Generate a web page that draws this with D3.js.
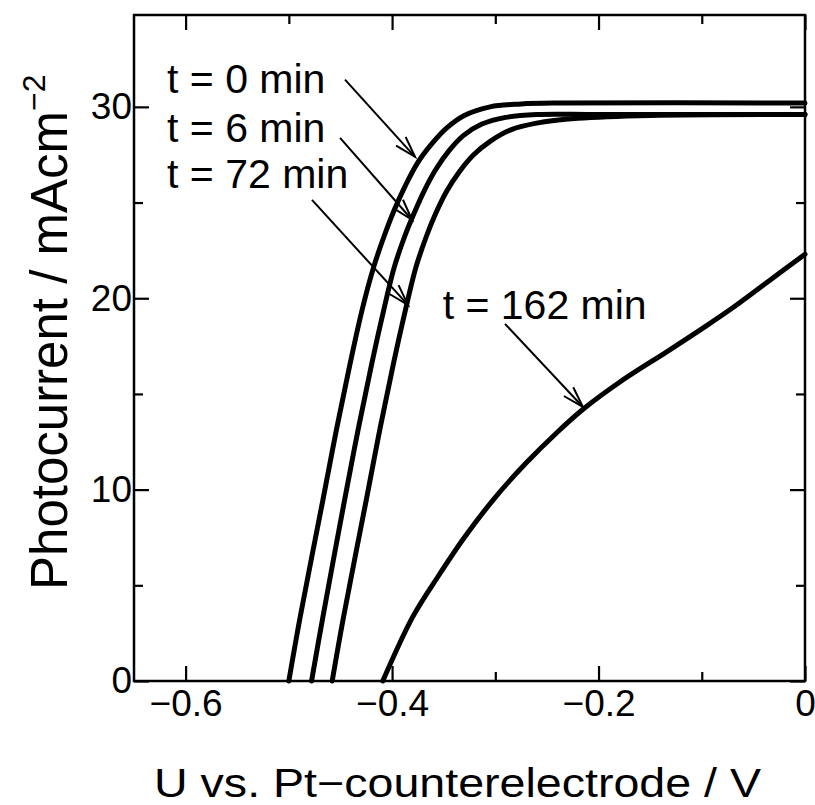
<!DOCTYPE html>
<html><head><meta charset="utf-8">
<script src="https://cdn.jsdelivr.net/npm/d3@7"></script>
<style>body{margin:0;background:#fff}</style>
</head><body><svg id="chart" width="815" height="805"></svg>
<script>
// ---- data ----
const xTicksMajor = [-0.6, -0.4, -0.2, 0];
const xTicksMinor = [-0.5, -0.3, -0.1];
const yTicksMajor = [0, 10, 20, 30];
const yTicksMinor = [5, 15, 25];
const xTickLabels = ["−0.6", "−0.4", "−0.2", "0"];
const yTickLabels = ["0", "10", "20", "30"];

const U_t0   = [-0.500, -0.489, -0.467, -0.454, -0.441, -0.429, -0.418, -0.408, -0.398, -0.387, -0.375, -0.361, -0.347, -0.330, -0.305, -0.275, -0.240, 0.000];
const J_t0   = [0, 3.35, 9.46, 13.1, 16.5, 19.4, 21.6, 23.2, 24.6, 25.9, 27.1, 28.1, 28.9, 29.55, 30.0, 30.15, 30.2, 30.2];
const U_t6   = [-0.478, -0.467, -0.446, -0.433, -0.420, -0.408, -0.398, -0.388, -0.379, -0.369, -0.358, -0.345, -0.331, -0.313, -0.290, -0.260, -0.200, 0.000];
const J_t6   = [0, 3.35, 9.46, 13.1, 16.5, 19.4, 21.6, 23.2, 24.4, 25.6, 26.7, 27.7, 28.5, 29.1, 29.45, 29.6, 29.6, 29.6];
const U_t72  = [-0.458, -0.447, -0.425, -0.412, -0.399, -0.387, -0.377, -0.367, -0.358, -0.347, -0.335, -0.321, -0.305, -0.285, -0.260, -0.220, -0.150, 0.000];
const J_t72  = [0, 3.35, 9.46, 13.1, 16.5, 19.4, 21.6, 23.2, 24.4, 25.6, 26.6, 27.5, 28.2, 28.8, 29.15, 29.4, 29.55, 29.6];
const U_t162 = [-0.409, -0.380, -0.355, -0.330, -0.300, -0.270, -0.240, -0.215, -0.180, -0.134, -0.100, -0.070, -0.035, 0.000];
const J_t162 = [0, 3.35, 5.5, 7.5, 9.6, 11.4, 13.0, 14.2, 15.6, 17.2, 18.4, 19.5, 20.9, 22.3];

const seriesLabels = ["t = 0 min", "t = 6 min", "t = 72 min", "t = 162 min"];
const labelU = [-0.618, -0.618, -0.618, -0.351];
const labelJ = [30.74, 28.18, 25.77, 18.92];
const arrowFromU = [-0.4456, -0.4504, -0.4776, -0.2906];
const arrowFromJ = [31.42, 28.38, 25.14, 18.66];
const arrowToU   = [-0.3778, -0.3807, -0.3846, -0.2151];
const arrowToJ   = [27.39, 24.10, 19.65, 14.32];

const xTitle = "U vs. Pt\u2212counterelectrode / V";
const yTitleMain = "Photocurrent / mAcm";
const yTitleSup = "\u22122";

// ---- layout ----
const L = 134, R = 805, T = 15, B = 681;
const x = d3.scaleLinear().domain([-0.65, 0]).range([L, R]);
const y = d3.scaleLinear().domain([0, 34.8]).range([B, T]);
const FONT = "'Liberation Sans', Arial, sans-serif";

const svg = d3.select("#chart");
svg.append("rect").attr("width", 815).attr("height", 805).attr("fill", "#fff");

function styleAxis(g) {
  g.select(".domain").remove();
  g.selectAll(".tick line").attr("stroke", "#000").attr("stroke-width", 2.2);
  g.selectAll("text").attr("font-family", FONT).attr("font-size", 37).attr("fill", "#000");
}

// bottom
svg.append("g").attr("transform", `translate(0,${B})`)
  .call(d3.axisBottom(x).tickValues(xTicksMajor).tickSize(-15).tickPadding(9)
    .tickFormat((d, i) => xTickLabels[i])).call(styleAxis);
svg.append("g").attr("transform", `translate(0,${B})`)
  .call(d3.axisBottom(x).tickValues(xTicksMinor).tickSize(-9).tickFormat("")).call(styleAxis);
// top
svg.append("g").attr("transform", `translate(0,${T})`)
  .call(d3.axisTop(x).tickValues(xTicksMajor).tickSize(-15).tickFormat("")).call(styleAxis);
svg.append("g").attr("transform", `translate(0,${T})`)
  .call(d3.axisTop(x).tickValues(xTicksMinor).tickSize(-9).tickFormat("")).call(styleAxis);
// left
svg.append("g").attr("transform", `translate(${L},0)`)
  .call(d3.axisLeft(y).tickValues(yTicksMajor).tickSize(-15).tickPadding(2)
    .tickFormat((d, i) => yTickLabels[i])).call(styleAxis);
svg.append("g").attr("transform", `translate(${L},0)`)
  .call(d3.axisLeft(y).tickValues(yTicksMinor).tickSize(-9).tickFormat("")).call(styleAxis);
// right
svg.append("g").attr("transform", `translate(${R},0)`)
  .call(d3.axisRight(y).tickValues(yTicksMajor).tickSize(-15).tickFormat("")).call(styleAxis);
svg.append("g").attr("transform", `translate(${R},0)`)
  .call(d3.axisRight(y).tickValues(yTicksMinor).tickSize(-9).tickFormat("")).call(styleAxis);

// frame
svg.append("rect").attr("x", L).attr("y", T).attr("width", R - L).attr("height", B - T)
  .attr("fill", "none").attr("stroke", "#000").attr("stroke-width", 2.5);

// curves
const series = [[U_t0, J_t0], [U_t6, J_t6], [U_t72, J_t72], [U_t162, J_t162]];
const line = d3.line().x(d => x(d[0])).y(d => y(d[1])).curve(d3.curveCatmullRom.alpha(0.5));
series.forEach(([U, J]) => {
  svg.append("path").datum(U.map((u, i) => [u, J[i]]))
    .attr("d", line).attr("fill", "none").attr("stroke", "#000")
    .attr("stroke-width", 5).attr("stroke-linejoin", "round").attr("stroke-linecap", "round");
});

// labels
seriesLabels.forEach((s, i) => {
  svg.append("text").attr("x", x(labelU[i])).attr("y", y(labelJ[i]))
    .attr("font-family", FONT).attr("font-size", 41).attr("fill", "#000").text(s);
});

// arrows
seriesLabels.forEach((s, i) => {
  const x1 = x(arrowFromU[i]), y1 = y(arrowFromJ[i]);
  const x2 = x(arrowToU[i]), y2 = y(arrowToJ[i]);
  const ang = Math.atan2(y2 - y1, x2 - x1);
  const hl = 22, ha = 17 * Math.PI / 180;
  const g = svg.append("g").attr("stroke", "#000").attr("stroke-width", 2).attr("fill", "none");
  g.append("line").attr("x1", x1).attr("y1", y1).attr("x2", x2).attr("y2", y2);
  g.append("path").attr("d",
    `M${x2 - hl * Math.cos(ang - ha)},${y2 - hl * Math.sin(ang - ha)}L${x2},${y2}L${x2 - hl * Math.cos(ang + ha)},${y2 - hl * Math.sin(ang + ha)}`);
});

// axis titles
svg.append("text").attr("x", (L + R) / 2 - 12).attr("y", 797).attr("text-anchor", "middle")
  .attr("font-family", FONT).attr("font-size", 40).attr("fill", "#000")
  .attr("textLength", 607).attr("lengthAdjust", "spacingAndGlyphs").text(xTitle);

const yt = svg.append("text").attr("transform", `translate(67,590) rotate(-90)`)
  .attr("text-anchor", "start").attr("font-family", FONT).attr("font-size", 51).attr("fill", "#000");
yt.append("tspan").text(yTitleMain);
yt.append("tspan").attr("dy", -22).attr("font-size", 32).text(yTitleSup);
</script></body></html>
